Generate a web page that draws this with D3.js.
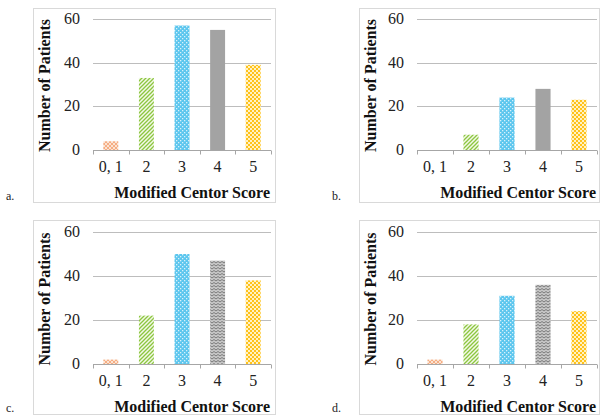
<!DOCTYPE html>
<html>
<head>
<meta charset="utf-8">
<script src="https://cdnjs.cloudflare.com/ajax/libs/d3/7.8.5/d3.min.js"></script>
<style>
  body { margin: 0; background: #fff; }
</style>
</head>
<body>
<script>
// data
var categories = ["0, 1", "2", "3", "4", "5"];
var yTicks = [0, 20, 40, 60];
var panelA = [4, 33, 57, 55, 39];
var panelB = [0, 7, 24, 28, 23];
var panelC = [2, 22, 50, 47, 38];
var panelD = [2, 18, 31, 36, 24];
var panelLetters = ["a.", "b.", "c.", "d."];

var FONT = "'Liberation Serif', 'DejaVu Serif', 'Times New Roman', serif";

var svg = d3.select("body").append("svg")
  .attr("width", 600)
  .attr("height", 417)
  .attr("font-family", FONT);

var defs = svg.append("defs");

// crosshatch orange
var p = defs.append("pattern").attr("id", "pOrange").attr("patternUnits", "userSpaceOnUse")
  .attr("width", 4).attr("height", 4);
p.append("rect").attr("width", 4).attr("height", 4).attr("fill", "#fbe3d2");
p.append("path").attr("d", "M0,0L4,4M4,0L0,4").attr("stroke", "#f4a77a").attr("stroke-width", 0.9);

// green diagonal stripes
p = defs.append("pattern").attr("id", "pGreen").attr("patternUnits", "userSpaceOnUse")
  .attr("width", 4).attr("height", 4);
p.append("rect").attr("width", 4).attr("height", 4).attr("fill", "#f3f9e8");
p.append("path").attr("d", "M-1,1L1,-1M0,4L4,0M3,5L5,3").attr("stroke", "#8cc63f").attr("stroke-width", 1.3);

// blue brick dots
p = defs.append("pattern").attr("id", "pBlue").attr("patternUnits", "userSpaceOnUse")
  .attr("width", 4).attr("height", 4);
p.append("rect").attr("width", 4).attr("height", 4).attr("fill", "#5cc6ee");
p.append("rect").attr("x", 0).attr("y", 0).attr("width", 1.3).attr("height", 1.3).attr("fill", "#d8f1fb");
p.append("rect").attr("x", 2).attr("y", 2).attr("width", 1.3).attr("height", 1.3).attr("fill", "#d8f1fb");

// gray solid
p = defs.append("pattern").attr("id", "pGray").attr("patternUnits", "userSpaceOnUse")
  .attr("width", 4).attr("height", 4);
p.append("rect").attr("width", 4).attr("height", 4).attr("fill", "#a3a3a3");

// gray zigzag
p = defs.append("pattern").attr("id", "pGrayZ").attr("patternUnits", "userSpaceOnUse")
  .attr("width", 4).attr("height", 3);
p.append("rect").attr("width", 4).attr("height", 3).attr("fill", "#c8c8c8");
p.append("path").attr("d", "M0,2L2,0.5L4,2").attr("stroke", "#7a7a7a").attr("stroke-width", 1).attr("fill", "none");

// yellow checker
p = defs.append("pattern").attr("id", "pYellow").attr("patternUnits", "userSpaceOnUse")
  .attr("width", 4).attr("height", 4);
p.append("rect").attr("width", 4).attr("height", 4).attr("fill", "#fff2c4");
p.append("rect").attr("x", 0).attr("y", 0).attr("width", 2).attr("height", 2).attr("fill", "#ffc21a");
p.append("rect").attr("x", 2).attr("y", 2).attr("width", 2).attr("height", 2).attr("fill", "#ffc21a");

var panels = [
  {vals: panelA, frame: [33, 8, 275, 202], px: [93, 271], py: [150, 19], gray: "pGray"},
  {vals: panelB, frame: [359, 8, 599, 202], px: [417, 597], py: [150, 19], gray: "pGray"},
  {vals: panelC, frame: [33, 220, 275, 414], px: [93, 271], py: [364, 232], gray: "pGrayZ"},
  {vals: panelD, frame: [359, 220, 599, 414], px: [417, 597], py: [364, 232], gray: "pGrayZ"}
];

panels.forEach(function(pn, i) {
  var g = svg.append("g");
  var fills = ["url(#pOrange)", "url(#pGreen)", "url(#pBlue)", "url(#" + pn.gray + ")", "url(#pYellow)"];

  g.append("rect")
    .attr("x", pn.frame[0] + 0.5).attr("y", pn.frame[1] + 0.5)
    .attr("width", pn.frame[2] - pn.frame[0]).attr("height", pn.frame[3] - pn.frame[1])
    .attr("fill", "#fff").attr("stroke", "#d9d9d9");

  var x = d3.scaleBand().domain(categories).range(pn.px).paddingInner(0.58).paddingOuter(0.29);
  var y = d3.scaleLinear().domain([0, 60]).range(pn.py);

  // gridlines
  g.selectAll(".grid").data(yTicks.filter(function(t){ return t > 0; }))
    .enter().append("line")
    .attr("x1", pn.px[0]).attr("x2", pn.px[1])
    .attr("y1", function(d){ return Math.round(y(d)) + 0.5; })
    .attr("y2", function(d){ return Math.round(y(d)) + 0.5; })
    .attr("stroke", "#bdbdbd");

  // y tick labels
  g.selectAll(".yl").data(yTicks).enter().append("text")
    .attr("x", pn.px[0] - 13)
    .attr("y", function(d){ return y(d) + 5; })
    .attr("text-anchor", "end")
    .attr("fill", "#222")
    .style("font-size", "16px")
    .text(function(d){ return d; });

  // bars
  g.selectAll(".bar").data(pn.vals).enter().append("rect")
    .attr("x", function(d, j){ return x(categories[j]); })
    .attr("y", function(d){ return y(d); })
    .attr("width", x.bandwidth())
    .attr("height", function(d){ return pn.py[0] - y(d); })
    .attr("fill", function(d, j){ return fills[j]; });

  // x axis line and ticks between categories
  var y0 = Math.round(pn.py[0]) + 0.5;
  g.append("line").attr("x1", pn.px[0]).attr("x2", pn.px[1])
    .attr("y1", y0).attr("y2", y0).attr("stroke", "#a6a6a6");
  var step = (pn.px[1] - pn.px[0]) / categories.length;
  d3.range(categories.length + 1).forEach(function(k) {
    var xx = Math.round(pn.px[0] + k * step) + 0.5;
    g.append("line").attr("x1", xx).attr("x2", xx)
      .attr("y1", y0).attr("y2", y0 + 4).attr("stroke", "#a6a6a6");
  });

  // x tick labels
  g.selectAll(".xl").data(categories).enter().append("text")
    .attr("x", function(d){ return x(d) + x.bandwidth() / 2; })
    .attr("y", pn.py[0] + 22)
    .attr("text-anchor", "middle")
    .attr("fill", "#222")
    .style("font-size", "16px")
    .text(function(d){ return d; });

  // axis titles
  g.append("text")
    .attr("x", pn.px[1] - 1)
    .attr("y", pn.py[0] + 48)
    .attr("text-anchor", "end")
    .attr("fill", "#111")
    .style("font-size", "16px").style("font-weight", "bold")
    .text("Modified Centor Score");

  var cy = (pn.py[0] + pn.py[1]) / 2 + 1;
  g.append("text")
    .attr("transform", "translate(" + (pn.frame[0] + 17) + "," + cy + ") rotate(-90)")
    .attr("text-anchor", "middle")
    .attr("fill", "#111")
    .style("font-size", "16px").style("font-weight", "bold")
    .text("Number of Patients");

  // panel letter
  g.append("text")
    .attr("x", pn.frame[0] - 27)
    .attr("y", pn.frame[3] - 2)
    .attr("fill", "#222")
    .style("font-size", "12px")
    .text(panelLetters[i]);
});
</script>
</body>
</html>
